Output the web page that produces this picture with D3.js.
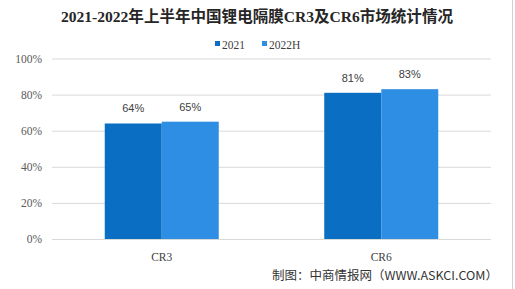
<!DOCTYPE html>
<html><head><meta charset="utf-8">
<script src="https://cdn.jsdelivr.net/npm/d3@7"></script>
<style>html,body{margin:0;padding:0;background:#fff;}svg{display:block;}</style>
</head><body>
<script>
const categories = ["CR3", "CR6"];
const seriesNames = ["2021", "2022H"];
const values2021 = [64, 81];
const values2022H = [65, 83];
const yTicks = [0, 20, 40, 60, 80, 100];
const titleText = "2021-2022年上半年中国锂电隔膜CR3及CR6市场统计情况";
const sourceText = "制图：中商情报网（WWW.ASKCI.COM）";

(function () {
const W = 515, H = 289;
const colors = ["#0A6FC2", "#2E8EE3"];
const svg = d3.select("body").append("svg").attr("width", W).attr("height", H);
svg.append("rect").attr("width", W).attr("height", H).attr("fill", "#fff");
svg.append("line").attr("x1", 512.5).attr("x2", 512.5).attr("y1", 0).attr("y2", H)
  .attr("stroke", "#d0d0d0");

const mLeft = 52, mRight = 491, mTop = 58.5, mBottom = 239;
const x0 = d3.scaleBand().domain(categories).range([mLeft, mRight]).paddingInner(0).paddingOuter(0);
const y = d3.scaleLinear().domain([0, 100]).range([mBottom, mTop]);
const groupW = 114;
const x1 = d3.scaleBand().domain(seriesNames).range([0, groupW]);

// gridlines
const grid = svg.append("g").attr("transform", `translate(${mLeft},0)`)
  .call(d3.axisLeft(y).tickValues(yTicks).tickSize(-(mRight - mLeft)).tickFormat(d => d + "%").tickPadding(10));
grid.select(".domain").remove();
grid.selectAll(".tick line").attr("stroke", "#d9d9d9").attr("stroke-width", 1);
grid.selectAll(".tick text").attr("fill", "#595959")
  .style("font-family", "'Liberation Serif', 'DejaVu Serif', serif").style("font-size", "11.5px");

const data = categories.map((c, i) => ({ cat: c, vals: [values2021[i], values2022H[i]] }));
const g = svg.selectAll(".grp").data(data).enter().append("g")
  .attr("transform", d => `translate(${x0(d.cat) + (x0.bandwidth() - groupW) / 2},0)`);
g.selectAll("rect").data(d => d.vals.map((v, j) => ({ v, s: seriesNames[j], j })))
  .enter().append("rect")
  .attr("x", d => x1(d.s)).attr("width", x1.bandwidth())
  .attr("y", d => y(d.v)).attr("height", d => y(0) - y(d.v))
  .attr("fill", d => colors[d.j]);
g.selectAll("text.val").data(d => d.vals.map((v, j) => ({ v, s: seriesNames[j] })))
  .enter().append("text")
  .attr("x", d => x1(d.s) + x1.bandwidth() / 2).attr("y", d => y(d.v) - 11)
  .attr("text-anchor", "middle").attr("fill", "#404040")
  .style("font-family", "'Liberation Sans', Arial, sans-serif").style("font-size", "11px")
  .text(d => d.v + "%");

// category axis labels
const xa = svg.append("g").attr("transform", `translate(0,${mBottom})`)
  .call(d3.axisBottom(x0).tickSize(0).tickPadding(14));
xa.select(".domain").remove();
xa.selectAll("text").attr("fill", "#404040")
  .style("font-family", "'Liberation Serif', 'DejaVu Serif', serif").style("font-size", "11.5px");

// title
svg.append("text").attr("x", 257).attr("y", 22).attr("text-anchor", "middle")
  .attr("fill", "#262626").attr("font-weight", "bold")
  .style("font-family", "'Liberation Serif', 'Noto Sans CJK SC', serif").style("font-size", "15.5px")
  .attr("textLength", 392).attr("lengthAdjust", "spacingAndGlyphs")
  .text(titleText);

// legend
const legX = [215, 262];
const leg = svg.selectAll(".leg").data(seriesNames).enter().append("g")
  .attr("transform", (d, i) => `translate(${legX[i]},0)`);
leg.append("rect").attr("x", 0).attr("y", 41).attr("width", 5).attr("height", 5)
  .attr("fill", (d, i) => colors[i]);
leg.append("text").attr("x", 7).attr("y", 48.5).attr("fill", "#404040")
  .style("font-family", "'Liberation Serif', 'DejaVu Serif', serif").style("font-size", "11.5px")
  .text(d => d);

// source
svg.append("text").attr("x", 272).attr("y", 280).attr("fill", "#333")
  .style("font-family", "'Noto Sans CJK SC', sans-serif").style("font-size", "12px")
  .attr("textLength", 226).attr("lengthAdjust", "spacingAndGlyphs")
  .text(sourceText);
})();
</script>
</body></html>
